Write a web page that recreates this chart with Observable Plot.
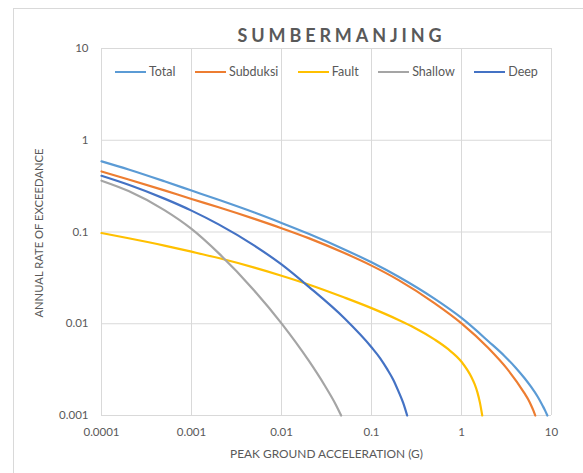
<!DOCTYPE html>
<html>
<head>
<meta charset="utf-8">
<script src="https://cdn.jsdelivr.net/npm/d3@7"></script>
<script src="https://cdn.jsdelivr.net/npm/@observablehq/plot@0.6"></script>
<style>
  html, body { margin: 0; padding: 0; background: #fff; }
  #wrap { position: relative; width: 583px; height: 473px; overflow: hidden; background: #fff; font-family: Lato, "Open Sans", sans-serif; }
  #frame { position: absolute; left: 13px; top: 8px; width: 640px; height: 520px; border: 1px solid #d9d9d9; box-sizing: border-box; }
  #plot { position: absolute; left: 0; top: 0; }
  #title { position: absolute; left: 341.5px; top: 25.5px; transform: translateX(-50%); font-weight: 700; font-size: 18px; line-height: 18px; letter-spacing: 3.9px; color: #595959; white-space: nowrap; }
  #ytitle { position: absolute; left: 38.5px; top: 232.5px; transform: translate(-50%, -50%) rotate(-90deg); font-size: 11.25px; line-height: 12px; color: #595959; white-space: nowrap; }
  #legend { position: absolute; left: 115px; top: 64px; display: flex; gap: 19.5px; }
  .item { display: flex; align-items: center; height: 16px; }
  .swatch { width: 31px; height: 2px; margin-right: 3px; }
  .lab { font-size: 12.5px; line-height: 16px; color: #595959; white-space: nowrap; }
</style>
</head>
<body>
<div id="wrap">
  <div id="frame"></div>
  <div id="plot"></div>
  <div id="title"></div>
  <div id="ytitle"></div>
  <div id="legend"></div>
</div>
<script>
// ---- data ----
const chartTitle = "SUMBERMANJING";
const xTitle = "PEAK GROUND ACCELERATION (G)";
const yTitle = "ANNUAL RATE OF EXCEEDANCE";

const seriesNames = ["Total", "Subduksi", "Fault", "Shallow", "Deep"];
const seriesColors = ["#5B9BD5", "#ED7D31", "#FFC000", "#A5A5A5", "#4472C4"];

const xTicks = [0.0001, 0.001, 0.01, 0.1, 1, 10];
const xTickLabels = ["0.0001", "0.001", "0.01", "0.1", "1", "10"];
const yTicks = [0.001, 0.01, 0.1, 1, 10];
const yTickLabels = ["0.001", "0.01", "0.1", "1", "10"];

const totalPga  = [0.0001, 0.0002, 0.0005, 0.001, 0.002, 0.005, 0.01, 0.02, 0.05, 0.1, 0.2, 0.5, 1, 2, 3, 4, 5, 6, 7, 8, 8.5, 9];
const totalRate = [0.590, 0.480, 0.357, 0.283, 0.2244, 0.163, 0.1256, 0.0957, 0.0646, 0.0467, 0.0325, 0.01875, 0.01156, 0.00641, 0.00446, 0.00332, 0.00256, 0.00202, 0.00161, 0.00127, 0.00113, 0.001];

const subduksiPga  = [0.0001, 0.0002, 0.0005, 0.001, 0.002, 0.005, 0.01, 0.02, 0.05, 0.1, 0.2, 0.5, 1, 2, 3.2, 5, 5.5, 6, 6.3, 6.6];
const subduksiRate = [0.457, 0.374, 0.284, 0.229, 0.186, 0.139, 0.110, 0.0857, 0.0589, 0.043, 0.0299, 0.0168, 0.0101, 0.0054, 0.00324, 0.00175, 0.0015, 0.00126, 0.00113, 0.001];

const faultPga  = [0.0001, 0.0002, 0.0005, 0.001, 0.002, 0.005, 0.01, 0.02, 0.05, 0.1, 0.2, 0.3, 0.5, 0.7, 1, 1.3, 1.4, 1.5, 1.6, 1.7];
const faultRate = [0.0975, 0.0855, 0.0711, 0.061, 0.052, 0.0409, 0.0334, 0.0268, 0.0193, 0.0148, 0.0110, 0.00906, 0.00676, 0.00535, 0.00385, 0.00258, 0.0022, 0.0018, 0.00139, 0.001];

const shallowPga  = [0.0001, 0.0002, 0.0005, 0.001, 0.002, 0.005, 0.01, 0.02, 0.03, 0.04, 0.046];
const shallowRate = [0.362, 0.279, 0.173, 0.108, 0.0588, 0.0229, 0.0101, 0.00398, 0.00215, 0.00132, 0.001];

const deepPga  = [0.0001, 0.0002, 0.0005, 0.001, 0.002, 0.005, 0.01, 0.02, 0.05, 0.1, 0.125, 0.15, 0.175, 0.2, 0.225, 0.249];
const deepRate = [0.41, 0.327, 0.231, 0.171, 0.121, 0.071, 0.0443, 0.0254, 0.01148, 0.00555, 0.0042, 0.00318, 0.00244, 0.00182, 0.00137, 0.001];

// ---- build table ----
const seriesData = [
  [totalPga, totalRate],
  [subduksiPga, subduksiRate],
  [faultPga, faultRate],
  [shallowPga, shallowRate],
  [deepPga, deepRate]
];
const rows = seriesData.flatMap(([xs, ys], s) =>
  xs.map((x, i) => ({series: seriesNames[s], pga: x, rate: ys[i]})));

const gridStyle = {stroke: "#d9d9d9", strokeOpacity: 1, strokeWidth: 1};

const chart = Plot.plot({
  width: 583,
  height: 473,
  marginTop: 48,
  marginRight: 32,
  marginBottom: 58,
  marginLeft: 101,
  style: {fontFamily: "Lato, 'Open Sans', sans-serif", fontSize: "11.5px", color: "#595959", background: "transparent", overflow: "visible"},
  x: {type: "log", domain: [0.0001, 10]},
  y: {type: "log", domain: [0.001, 10]},
  color: {domain: seriesNames, range: seriesColors},
  marks: [
    Plot.gridX(xTicks, gridStyle),
    Plot.gridY(yTicks, gridStyle),
    Plot.axisX(xTicks, {tickSize: 0, tickPadding: 12, label: null, fontSize: 11.5,
      tickFormat: d => xTickLabels[xTicks.indexOf(d)]}),
    Plot.axisY(yTicks, {tickSize: 0, tickPadding: 13, label: null, fontSize: 11.5,
      tickFormat: d => yTickLabels[yTicks.indexOf(d)]}),
    Plot.text([xTitle], {frameAnchor: "bottom", dy: 39, fontSize: 11.9, fill: "#595959", lineAnchor: "middle"}),
    Plot.line(rows, {x: "pga", y: "rate", z: "series", stroke: "series", strokeWidth: 2.2, curve: "monotone-x"})
  ]
});
document.getElementById("plot").appendChild(chart);

document.getElementById("title").textContent = chartTitle;
document.getElementById("ytitle").textContent = yTitle;
const legend = document.getElementById("legend");
seriesNames.forEach((name, i) => {
  const item = document.createElement("div");
  item.className = "item";
  const sw = document.createElement("span");
  sw.className = "swatch";
  sw.style.background = seriesColors[i];
  const lab = document.createElement("span");
  lab.className = "lab";
  lab.textContent = name;
  item.appendChild(sw);
  item.appendChild(lab);
  legend.appendChild(item);
});
</script>
</body>
</html>
